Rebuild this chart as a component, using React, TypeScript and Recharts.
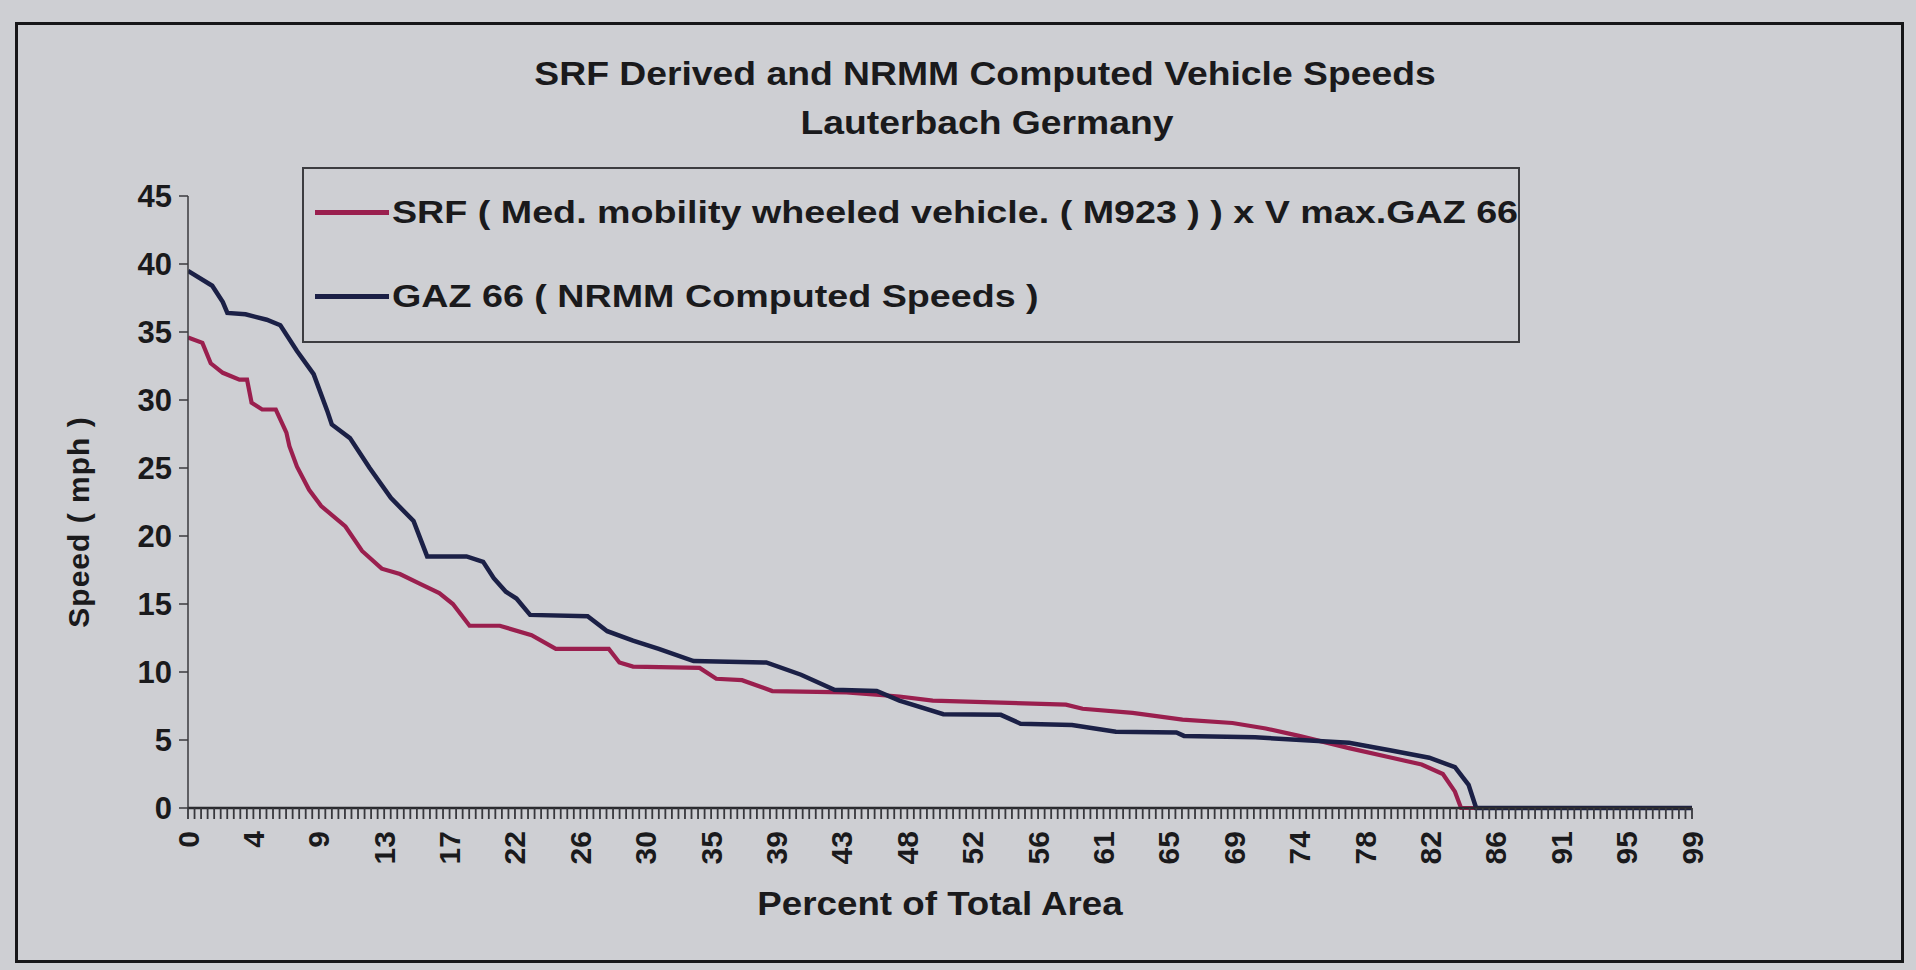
import React from 'react';
import { LineChart, Line, XAxis, YAxis, Legend } from 'recharts';

// ---------- text ----------
const chartTitle = 'SRF Derived and NRMM Computed Vehicle Speeds';
const chartSubtitle = 'Lauterbach Germany';
const xAxisTitle = 'Percent of Total Area';
const yAxisTitle = 'Speed ( mph )';
const srfName = 'SRF ( Med. mobility wheeled vehicle. ( M923 ) ) x V max.GAZ 66';
const gazName = 'GAZ 66 ( NRMM Computed Speeds )';
const legendOrder = [srfName, gazName];

// ---------- axes ----------
const xTickLabels = ['0', '4', '9', '13', '17', '22', '26', '30', '35', '39', '43', '48', '52', '56', '61', '65', '69', '74', '78', '82', '86', '91', '95', '99'];
const yTicks = [0, 5, 10, 15, 20, 25, 30, 35, 40, 45];
const X_MAX = 99.36;
const CATEGORY_STEPS = 230;
const LABEL_EVERY = 10;

// ---------- series: SRF (percent of area, mph) ----------
const srfX = [0, 0.95, 1.5, 2.3, 3.4, 3.9, 4.2, 4.9, 5.8, 6.5, 6.7, 7.2, 8.0, 8.8, 10.4, 11.5, 12.8, 14.0, 15.3, 16.6, 17.5, 18.6, 20.6, 22.7, 24.3, 27.8, 28.5, 29.4, 33.8, 34.9, 36.6, 38.6, 43.5, 47.0, 49.2, 58.0, 59.1, 62.4, 65.7, 69.0, 71.2, 73.4, 76.7, 79.3, 81.5, 82.9, 83.7, 84.1, 99.36];
const srfY = [34.6, 34.2, 32.7, 32.0, 31.5, 31.5, 29.8, 29.3, 29.3, 27.6, 26.6, 25.1, 23.4, 22.2, 20.7, 18.9, 17.6, 17.2, 16.5, 15.8, 15.0, 13.4, 13.4, 12.7, 11.7, 11.7, 10.7, 10.4, 10.3, 9.5, 9.4, 8.6, 8.5, 8.2, 7.9, 7.6, 7.3, 7.0, 6.5, 6.25, 5.85, 5.3, 4.4, 3.75, 3.2, 2.5, 1.2, 0, 0];

// ---------- series: GAZ 66 (percent of area, mph) ----------
const gazX = [0, 1.6, 2.3, 2.6, 3.8, 5.2, 6.1, 7.2, 8.3, 9.2, 9.5, 10.7, 12.0, 13.4, 14.9, 15.8, 18.4, 19.5, 20.2, 21.0, 21.7, 22.6, 26.4, 27.7, 29.4, 31.1, 33.4, 38.2, 40.5, 42.7, 45.5, 47.0, 49.9, 53.7, 55.0, 58.4, 61.3, 65.3, 65.8, 70.5, 73.5, 76.7, 79.4, 82.0, 83.7, 84.6, 85.1, 99.36];
const gazY = [39.5, 38.4, 37.2, 36.4, 36.3, 35.9, 35.5, 33.6, 31.9, 29.2, 28.2, 27.2, 25.0, 22.8, 21.1, 18.5, 18.5, 18.1, 16.9, 15.9, 15.4, 14.2, 14.1, 13.0, 12.3, 11.7, 10.8, 10.7, 9.8, 8.7, 8.6, 7.9, 6.9, 6.85, 6.2, 6.1, 5.6, 5.55, 5.3, 5.2, 5.0, 4.8, 4.25, 3.7, 3.0, 1.7, 0, 0];

const srfData = srfX.map((x, i) => ({ x, y: srfY[i] }));
const gazData = gazX.map((x, i) => ({ x, y: gazY[i] }));
const xTicks = Array.from({ length: CATEGORY_STEPS + 1 }, (_, k) => (k * X_MAX) / CATEGORY_STEPS);

const SRF_COLOR = '#9a1f4e';
const GAZ_COLOR = '#1b2046';
const BG = '#cecfd3';
const TEXT = '#1a1a1c';
const FONT = '"Liberation Sans", Arial, Helvetica, sans-serif';

const XTick = (props: any) => {
  const { x, y, payload } = props;
  const k = Math.round((payload.value * CATEGORY_STEPS) / X_MAX);
  if (k % LABEL_EVERY !== 0) return <g />;
  const label = xTickLabels[k / LABEL_EVERY];
  return (
    <text
      x={x}
      y={y}
      transform={`rotate(-90, ${x}, ${y})`}
      textAnchor="end"
      dominantBaseline="central"
      fontFamily={FONT}
      fontWeight="bold"
      fontSize={30}
      fill={TEXT}
    >
      {label}
    </text>
  );
};

const YTick = (props: any) => {
  const { x, y, payload } = props;
  return (
    <text x={x} y={y} textAnchor="end" dominantBaseline="central" fontFamily={FONT} fontWeight="bold" fontSize={31} fill={TEXT}>
      {payload.value}
    </text>
  );
};

const LegendBox = (props: any) => {
  const items = [...(props.payload || [])].sort(
    (a: any, b: any) => legendOrder.indexOf(a.value) - legendOrder.indexOf(b.value)
  );
  return (
    <div
      style={{
        width: 1218,
        height: 176,
        boxSizing: 'border-box',
        border: '2px solid #3c3c40',
        position: 'relative',
        background: BG,
      }}
    >
      {items.map((entry: any, i: number) => (
        <div
          key={i}
          style={{
            position: 'absolute',
            left: 11,
            top: i === 0 ? 43 : 127,
            height: 0,
            display: 'flex',
            alignItems: 'center',
          }}
        >
          <div style={{ width: 74, height: 5, background: entry.color }} />
          <span
            style={{
              marginLeft: 3,
              fontFamily: FONT,
              fontWeight: 'bold',
              fontSize: 31,
              color: TEXT,
              whiteSpace: 'nowrap',
              display: 'inline-block',
              transform: 'scaleX(1.215)',
              transformOrigin: 'left center',
              lineHeight: 1,
            }}
          >
            {entry.value}
          </span>
        </div>
      ))}
    </div>
  );
};

const overlayText = (text: string, cx: number, cy: number, size: number, extra: string, style: any = {}) => (
  <div
    style={{
      position: 'absolute',
      left: cx,
      top: cy,
      transform: `translate(-50%, -50%) ${extra}`,
      fontFamily: FONT,
      fontWeight: 'bold',
      fontSize: size,
      color: TEXT,
      whiteSpace: 'nowrap',
      lineHeight: 1,
      ...style,
    }}
  >
    {text}
  </div>
);

export default function App() {
  return (
    <div style={{ position: 'absolute', left: 0, top: 0, width: 1916, height: 970, background: BG, overflow: 'hidden' }}>
      <div
        style={{
          position: 'absolute',
          left: 15,
          top: 22,
          width: 1889,
          height: 941,
          boxSizing: 'border-box',
          border: '3px solid #161618',
        }}
      />
      {overlayText(chartTitle, 985, 73, 33, 'scaleX(1.13)')}
      {overlayText(chartSubtitle, 987, 122, 33, 'scaleX(1.13)')}
      {overlayText(xAxisTitle, 940, 903, 34, 'scaleX(1.08)')}
      {overlayText(yAxisTitle, 79, 522, 30, 'rotate(-90deg)', { letterSpacing: 1 })}
      <div style={{ position: 'absolute', left: 0, top: 0 }}>
        <LineChart width={1916} height={970} margin={{ top: 196, right: 224, bottom: 102, left: 128 }}>
          <XAxis
            dataKey="x"
            type="number"
            domain={[0, X_MAX]}
            ticks={xTicks}
            interval={0}
            height={60}
            tick={<XTick />}
            tickSize={11}
            tickMargin={12}
            tickLine={{ stroke: '#38383d', strokeWidth: 1.8 }}
            axisLine={{ stroke: '#2a2a2e', strokeWidth: 2.5 }}
            allowDataOverflow
          />
          <YAxis
            type="number"
            domain={[0, 45]}
            ticks={yTicks}
            interval={0}
            width={60}
            tick={<YTick />}
            tickSize={9}
            tickMargin={7}
            tickLine={{ stroke: '#3a3a3e', strokeWidth: 1.5 }}
            axisLine={{ stroke: '#3a3a3e', strokeWidth: 1.5 }}
          />
          <Legend
            layout="horizontal"
            verticalAlign="middle"
            align="center"
            content={<LegendBox />}
            wrapperStyle={{ position: 'absolute', left: 302, top: 167, width: 1218, height: 176 }}
          />
          <Line
            data={srfData}
            dataKey="y"
            name={srfName}
            type="linear"
            stroke={SRF_COLOR}
            strokeWidth={4.2}
            dot={false}
            activeDot={false}
            isAnimationActive={false}
            legendType="line"
          />
          <Line
            data={gazData}
            dataKey="y"
            name={gazName}
            type="linear"
            stroke={GAZ_COLOR}
            strokeWidth={4.5}
            dot={false}
            activeDot={false}
            isAnimationActive={false}
            legendType="line"
          />
        </LineChart>
      </div>
    </div>
  );
}
